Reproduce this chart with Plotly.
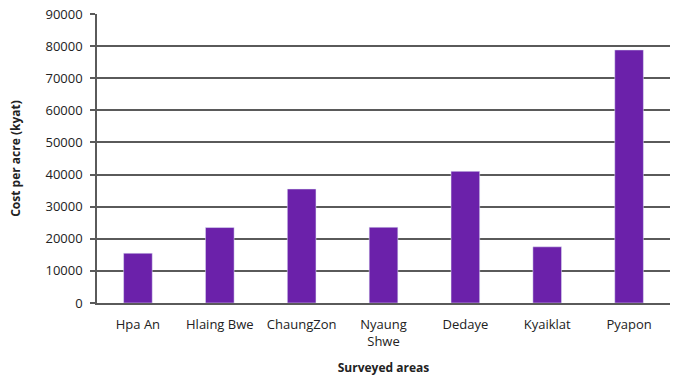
import plotly.graph_objects as go

areas = ["Hpa An", "Hlaing Bwe", "ChaungZon", "Nyaung<br>Shwe", "Dedaye", "Kyaiklat", "Pyapon"]
costs = [15500, 23500, 35500, 23600, 41000, 17500, 78800]
y_ticks = [0, 10000, 20000, 30000, 40000, 50000, 60000, 70000, 80000, 90000]

fig = go.Figure(go.Bar(x=areas, y=costs, marker_color="#6B21AA", width=0.35))

font = dict(family="Open Sans, sans-serif", size=12, color="#222")
fig.update_layout(
    width=673, height=378,
    margin=dict(l=97, r=3, t=14, b=75),
    paper_bgcolor="white", plot_bgcolor="white",
    font=font,
    showlegend=False,
)
fig.update_yaxes(
    range=[0, 90000], tickvals=y_ticks, ticktext=[str(v) for v in y_ticks],
    showgrid=True, gridcolor="#5a5a5a", gridwidth=1.5,
    showline=True, linecolor="#5a5a5a", linewidth=1.5,
    ticks="outside", ticklen=5, tickcolor="#5a5a5a", tickwidth=1.5,
    ticklabelstandoff=5,
    tickfont=dict(size=13),
    zeroline=False,
    title=dict(text="<b>Cost per acre (kyat)</b>", font=dict(size=12), standoff=22),
)
fig.update_xaxes(
    showline=True, linecolor="#5a5a5a", linewidth=1.5,
    ticks="outside", ticklen=9, tickcolor="rgba(0,0,0,0)",
    tickfont=dict(size=13),
    title=dict(text="<b>Surveyed areas</b>", font=dict(size=12), standoff=14),
)
fig.write_html("out.html")
